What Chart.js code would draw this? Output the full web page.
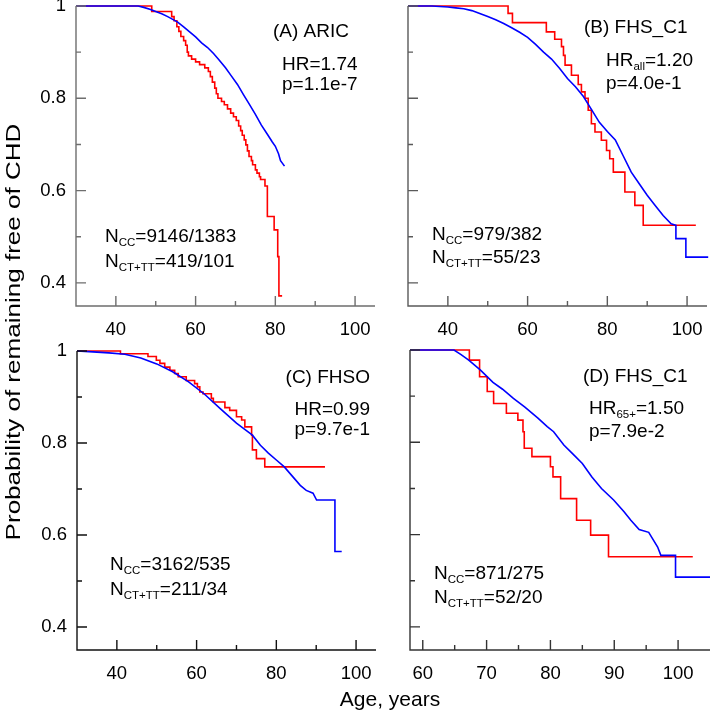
<!DOCTYPE html>
<html>
<head>
<meta charset="utf-8">
<script src="https://cdn.jsdelivr.net/npm/chart.js@4"></script>
<style>
  html, body { margin: 0; padding: 0; background: #fff; }
  #wrap { position: relative; width: 710px; height: 716px; }
  #wrap canvas { position: absolute; left: 0; top: 0; }
</style>
</head>
<body>
<div id="wrap">
  <canvas id="pA" width="710" height="716"></canvas>
  <canvas id="pB" width="710" height="716"></canvas>
  <canvas id="pC" width="710" height="716"></canvas>
  <canvas id="pD" width="710" height="716"></canvas>
</div>
<script>
// (A) ARIC
const ageA_cc = [30,45.6,47,48.5,50,51.5,53,54.5,55.5,57,58.5,60,61.5,63,64.5,66,67.5,69,70.5,72,73.5,75,76.5,78,79.2,80,80.8,81.3,82.3];
const survA_cc = [1,1,0.997,0.993,0.988,0.983,0.977,0.97,0.965,0.955,0.944,0.933,0.92,0.91,0.897,0.882,0.866,0.848,0.83,0.808,0.787,0.765,0.742,0.722,0.706,0.696,0.68,0.665,0.653];
const ageA_ct = [30,49,54,54.6,55.3,55.8,56.3,57,57.5,57.9,58.2,59,60,61,62.3,63.2,63.7,64.2,64.8,65.2,65.6,66.5,67.2,68,68.8,69.5,70.2,70.8,71.3,71.7,72.2,72.6,73,73.4,74,74.3,75,75.4,76,76.3,77.4,78,79.7,80.6,80.9,81.7];
const survA_ct = [1,0.988,0.977,0.968,0.955,0.945,0.934,0.925,0.915,0.9,0.892,0.885,0.879,0.873,0.866,0.858,0.847,0.835,0.822,0.81,0.8,0.793,0.786,0.777,0.768,0.76,0.752,0.74,0.73,0.72,0.71,0.699,0.686,0.674,0.665,0.656,0.645,0.638,0.63,0.624,0.61,0.544,0.515,0.457,0.372,0.372];

// (B) FHS_C1, all ages
const ageB_cc = [30,36,38,40,42,44,46,48,50,52,54,56,58,60,62,64,66,68,70,72,74,76,78,80,82,84,86,88,90,92,94,96,97.2,97.2,99.7,99.7,105.3];
const survB_cc = [1,1,0.999,0.998,0.996,0.994,0.99,0.984,0.977,0.97,0.962,0.953,0.943,0.932,0.917,0.9,0.885,0.865,0.843,0.825,0.804,0.776,0.748,0.728,0.71,0.675,0.64,0.615,0.59,0.568,0.546,0.528,0.525,0.496,0.496,0.456,0.456];
const ageB_ct = [30,55.1,56.2,64.7,66.8,68.5,69.0,69.4,71.0,72.7,73.5,74.4,75.2,76.0,76.9,78.5,79.8,80.6,81.5,84.4,86.9,89.0,102.2];
const survB_ct = [1,0.984,0.964,0.944,0.928,0.912,0.893,0.872,0.85,0.83,0.814,0.8,0.774,0.745,0.727,0.709,0.687,0.669,0.64,0.597,0.568,0.525,0.525];

// (C) FHSO
const ageC_cc = [30,34,38,42,46,50,54,58,62,66,70,72,74,76,78,80,82,84,86,87.5,89.2,90.1,94.7,94.7,96.4];
const survC_cc = [1,0.998,0.996,0.993,0.985,0.972,0.955,0.933,0.906,0.874,0.843,0.83,0.817,0.795,0.778,0.763,0.748,0.728,0.708,0.697,0.691,0.676,0.676,0.564,0.564];
const ageC_ct = [30,40.9,47.8,49.9,50.8,52.0,53.3,54.5,55.4,57.4,59.5,60.2,60.8,61.6,63.7,64.2,67.1,68.3,70.0,71.3,72.1,73.8,74.0,75.0,77.1,92.2];
const survC_ct = [1,0.994,0.988,0.98,0.973,0.965,0.958,0.951,0.944,0.936,0.929,0.922,0.911,0.907,0.897,0.889,0.877,0.871,0.857,0.85,0.835,0.817,0.785,0.766,0.748,0.748];

// (D) FHS_C1, 65+
const ageD_cc = [58,64.9,66,67.2,69,71,72.5,74.2,76,78,79.5,80.5,82.1,83.5,85,86.5,88,89.9,91.5,92.6,93.9,95.4,96.8,97.3,99.6,99.6,105.1];
const survD_cc = [1,1,0.99,0.978,0.957,0.93,0.915,0.895,0.876,0.853,0.834,0.823,0.794,0.775,0.754,0.725,0.7,0.675,0.65,0.631,0.611,0.605,0.573,0.555,0.555,0.508,0.508];
const ageD_ct = [58,67.3,68.9,70.1,71.1,73.1,74.9,75.7,75.9,77.1,80.0,80.4,81.6,84.1,86.3,89.1,102.3];
const survD_ct = [1,0.978,0.942,0.91,0.884,0.863,0.848,0.823,0.787,0.769,0.747,0.725,0.678,0.631,0.599,0.552,0.552];

// ticks
const xTicksAC = [40,50,60,70,80,90,100];
const xLabelsAC = [40,60,80,100];
const xTicksD = [60,65,70,75,80,85,90,95,100];
const xLabelsD = [60,70,80,90,100];
const yTicks = [0.4,0.5,0.6,0.7,0.8,0.9,1];
const yLabels = [0.4,0.6,0.8,1];

const FONT = '"Liberation Sans", Arial, sans-serif';
const RED = '#ff0000', BLUE = '#0000ff';

function pts(ages, surv) {
  return ages.map((a, i) => ({ x: a, y: surv[i] }));
}

function richText(ctx, x, y, parts, align) {
  let w = 0;
  parts.forEach(p => {
    ctx.font = (p[1] ? '11.5px ' : '19px ') + FONT;
    w += ctx.measureText(p[0]).width;
  });
  let cx = align === 'right' ? x - w : x;
  ctx.textAlign = 'left';
  ctx.textBaseline = 'alphabetic';
  parts.forEach(p => {
    ctx.font = (p[1] ? '11.5px ' : '19px ') + FONT;
    ctx.fillText(p[0], cx, p[1] ? y + 4 : y);
    cx += ctx.measureText(p[0]).width;
  });
}

const panelDeco = {
  id: 'panelDeco',
  afterDraw(chart, args, o) {
    const { ctx, chartArea: a } = chart;
    const x = chart.scales.x, y = chart.scales.y;
    ctx.save();
    ctx.strokeStyle = o.axisColor;
    ctx.lineWidth = 1.4;
    ctx.beginPath();
    ctx.moveTo(a.left, a.top);
    ctx.lineTo(a.left, a.bottom);
    ctx.lineTo(a.right, a.bottom);
    o.xTicks.forEach(v => {
      const px = x.getPixelForValue(v);
      const len = o.xLabels.includes(v) ? 10 : 5;
      ctx.moveTo(px, a.bottom);
      ctx.lineTo(px, a.bottom - len);
    });
    yTicks.forEach(v => {
      const py = y.getPixelForValue(v);
      const len = yLabels.includes(v) ? 10 : 5;
      ctx.moveTo(a.left, py);
      ctx.lineTo(a.left + len, py);
    });
    ctx.stroke();

    ctx.fillStyle = '#000';
    ctx.font = '18.5px ' + FONT;
    ctx.textAlign = 'center';
    ctx.textBaseline = 'alphabetic';
    o.xLabels.forEach(v => ctx.fillText(String(v), x.getPixelForValue(v), a.bottom + 29));
    if (o.showY) {
      ctx.textAlign = 'right';
      ctx.textBaseline = 'middle';
      yLabels.forEach(v => ctx.fillText(v === 1 ? '1' : v.toFixed(1), a.left - 10, y.getPixelForValue(v)));
    }
    o.notes.forEach(n => richText(ctx, n.x, n.y, n.parts, n.align));

    if (o.titles) {
      ctx.fillStyle = '#000';
      ctx.font = '21px ' + FONT;
      ctx.textAlign = 'center';
      ctx.textBaseline = 'alphabetic';
      ctx.fillText('Age, years', 390, 706);
      ctx.save();
      ctx.translate(20, 332);
      ctx.rotate(-Math.PI / 2);
      ctx.scale(1.24, 1);
      ctx.fillText('Probability of remaining free of CHD', 0, 0);
      ctx.restore();
    }
    ctx.restore();
  }
};

function makePanel(id, box, xmin, xmax, blue, red, deco) {
  return new Chart(document.getElementById(id), {
    type: 'line',
    data: {
      datasets: [
        { data: blue, borderColor: BLUE, borderWidth: 1.6, pointRadius: 0, stepped: false, tension: 0, clip: false },
        { data: red, borderColor: RED, borderWidth: 1.6, pointRadius: 0, stepped: 'before', clip: false }
      ]
    },
    options: {
      responsive: false,
      animation: false,
      events: [],
      layout: { padding: { left: box[0], top: box[1], right: 710 - box[2], bottom: 716 - box[3] } },
      plugins: { legend: { display: false }, tooltip: { enabled: false }, panelDeco: deco },
      scales: {
        x: { type: 'linear', min: xmin, max: xmax, display: false },
        y: { type: 'linear', min: 0.35, max: 1, display: false }
      }
    },
    plugins: [panelDeco]
  });
}

makePanel('pA', [76, 6, 375, 306], 30, 105, pts(ageA_cc, survA_cc), pts(ageA_ct, survA_ct), {
  axisColor: '#6e6e6e', xTicks: xTicksAC, xLabels: xLabelsAC, showY: true,
  notes: [
    { x: 273, y: 37, parts: [['(A) ARIC']] },
    { x: 282, y: 70, parts: [['HR=1.74']] },
    { x: 282, y: 90, parts: [['p=1.1e-7']] },
    { x: 105, y: 242, parts: [['N'], ['CC', 1], ['=9146/1383']] },
    { x: 105, y: 267, parts: [['N'], ['CT+TT', 1], ['=419/101']] }
  ]
});

makePanel('pB', [408, 6, 707, 306], 30, 105, pts(ageB_cc, survB_cc), pts(ageB_ct, survB_ct), {
  axisColor: '#5a5a5a', xTicks: xTicksAC, xLabels: xLabelsAC, showY: false,
  notes: [
    { x: 584, y: 33, parts: [['(B) FHS_C1']] },
    { x: 606, y: 66, parts: [['HR'], ['all', 1], ['=1.20']] },
    { x: 606, y: 89, parts: [['p=4.0e-1']] },
    { x: 432, y: 240, parts: [['N'], ['CC', 1], ['=979/382']] },
    { x: 432, y: 263, parts: [['N'], ['CT+TT', 1], ['=55/23']] }
  ]
});

makePanel('pC', [77, 351, 376, 650], 30, 105, pts(ageC_cc, survC_cc), pts(ageC_ct, survC_ct), {
  axisColor: '#111111', xTicks: xTicksAC, xLabels: xLabelsAC, showY: true, titles: true,
  notes: [
    { x: 370, y: 383, parts: [['(C) FHSO']], align: 'right' },
    { x: 370, y: 415, parts: [['HR=0.99']], align: 'right' },
    { x: 370, y: 435, parts: [['p=9.7e-1']], align: 'right' },
    { x: 110, y: 570, parts: [['N'], ['CC', 1], ['=3162/535']] },
    { x: 110, y: 595, parts: [['N'], ['CT+TT', 1], ['=211/34']] }
  ]
});

makePanel('pD', [410, 350, 710, 650], 58, 105, pts(ageD_cc, survD_cc), pts(ageD_ct, survD_ct), {
  axisColor: '#333333', xTicks: xTicksD, xLabels: xLabelsD, showY: false,
  notes: [
    { x: 583, y: 382, parts: [['(D) FHS_C1']] },
    { x: 589, y: 414, parts: [['HR'], ['65+', 1], ['=1.50']] },
    { x: 589, y: 437, parts: [['p=7.9e-2']] },
    { x: 434, y: 579, parts: [['N'], ['CC', 1], ['=871/275']] },
    { x: 434, y: 603, parts: [['N'], ['CT+TT', 1], ['=52/20']] }
  ]
});
</script>
</body>
</html>
